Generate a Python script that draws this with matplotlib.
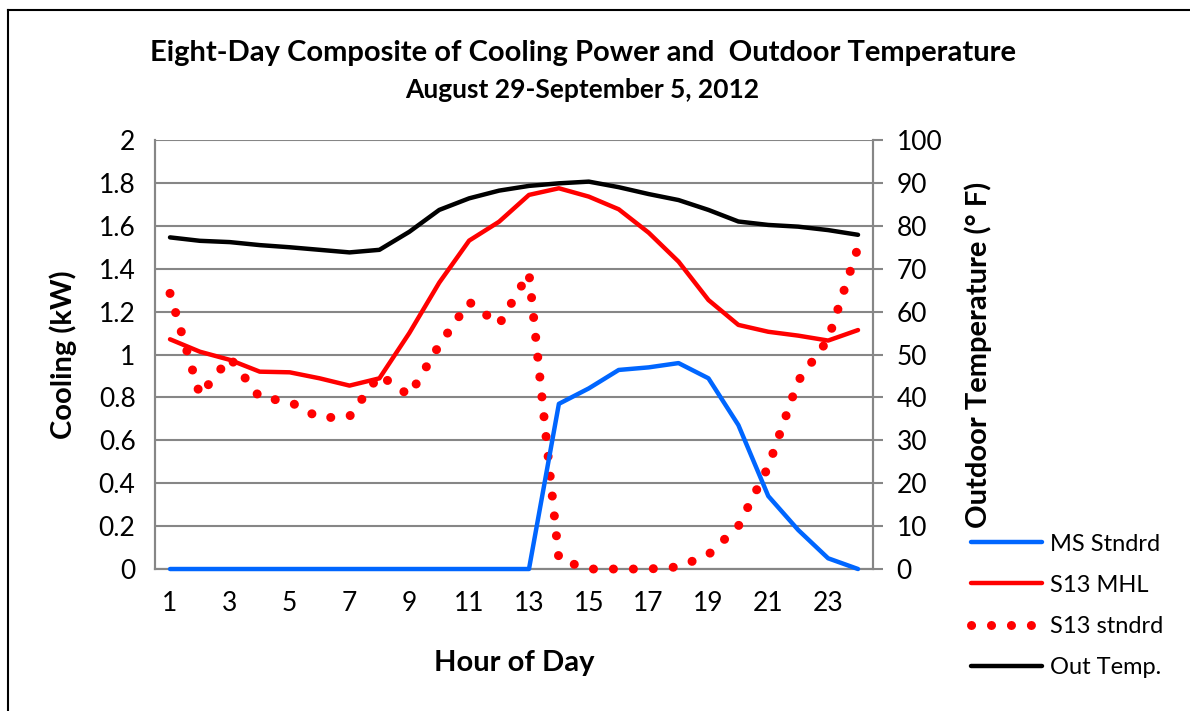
import matplotlib
matplotlib.use("Agg")
import matplotlib.pyplot as plt
from matplotlib.lines import Line2D

plt.rcParams["font.family"] = ["Lato", "DejaVu Sans"]

hours = list(range(1, 25))
ms_stndrd = [0, 0, 0, 0, 0, 0, 0, 0, 0, 0, 0, 0, 0,
             0.77, 0.842, 0.928, 0.94, 0.96, 0.889, 0.671, 0.34, 0.182, 0.05, 0.0]
s13_mhl = [1.071, 1.013, 0.975, 0.92, 0.917, 0.889, 0.855, 0.889, 1.10, 1.335,
           1.531, 1.619, 1.744, 1.775, 1.736, 1.677, 1.568, 1.433, 1.254, 1.138,
           1.106, 1.088, 1.065, 1.114]
s13_stndrd = [1.285, 0.81, 0.985, 0.80, 0.78, 0.704, 0.711, 0.905, 0.809, 1.044,
              1.245, 1.14, 1.38, 0.045, 0.0, 0.0, 0.0, 0.01, 0.067, 0.20,
              0.477, 0.877, 1.07, 1.50]
out_temp = [77.3, 76.5, 76.2, 75.5, 75.0, 74.4, 73.8, 74.4, 78.6, 83.7,
            86.4, 88.2, 89.3, 89.9, 90.3, 89.0, 87.4, 86.0, 83.7, 81.0,
            80.2, 79.8, 79.0, 77.9]

blue = "#0066FF"
red = "#FF0000"
grid_c = "#868686"

fig = plt.figure(figsize=(11.9, 7.11), dpi=100)
ax = fig.add_axes([0.1303, 0.1997, 0.6033, 0.6034])
ax2 = ax.twinx()
ax.set_zorder(2)
ax.patch.set_visible(False)

# frame around the chart (left and top edges are visible)
fig.add_artist(Line2D([0.0065, 0.0065], [0, 0.986], color="black", lw=1.5))
fig.add_artist(Line2D([0.0065, 1.0], [0.986, 0.986], color="black", lw=1.5))

ax.plot(hours, ms_stndrd, color=blue, lw=3.2, solid_capstyle="round",
        clip_on=False, zorder=4)
ax.plot(hours, s13_mhl, color=red, lw=3.2, solid_capstyle="round", zorder=3)
ax.plot(hours, s13_stndrd, color=red, lw=6.5, linestyle=(0, (0.01, 2.2)),
        dash_capstyle="round", clip_on=False, zorder=3)
ax2.plot(hours, out_temp, color="black", lw=3.2, solid_capstyle="round", zorder=3)

ax.set_xlim(0.5, 24.5)
ax.set_ylim(0, 2)
ax2.set_ylim(0, 100)
ax.set_yticks([i * 0.2 for i in range(11)])
ax.set_yticklabels(["0", "0.2", "0.4", "0.6", "0.8", "1", "1.2", "1.4", "1.6", "1.8", "2"])
ax2.set_yticks(range(0, 101, 10))
ax.set_xticks(range(1, 25, 2))
ax2.grid(axis="y", color=grid_c, lw=1.5)
ax2.set_axisbelow(True)

for a in (ax, ax2):
    a.spines["top"].set_visible(False)
    for s in ("left", "right", "bottom"):
        a.spines[s].set_color(grid_c)
        a.spines[s].set_linewidth(1.5)

ax.tick_params(axis="x", length=0, labelsize=19, pad=16)
ax.tick_params(axis="y", length=0, labelsize=19, pad=14)
ax2.tick_params(axis="y", length=7, width=1.5, color=grid_c, labelsize=19, pad=10)

ax.set_xlabel("Hour of Day", fontsize=21, fontweight="bold", labelpad=24)
ax.set_ylabel("Cooling (kW)", fontsize=21, fontweight="bold", labelpad=16)
ax2.set_ylabel("Outdoor Temperature (° F)", fontsize=21, fontweight="bold", labelpad=16)

fig.text(0.4895, 0.926, "Eight-Day Composite of Cooling Power and  Outdoor Temperature",
         ha="center", va="center", fontsize=21, fontweight="bold")
fig.text(0.4895, 0.873, "August 29-September 5, 2012",
         ha="center", va="center", fontsize=19, fontweight="bold")

handles = [
    Line2D([], [], color=blue, lw=3.2, solid_capstyle="round"),
    Line2D([], [], color=red, lw=3.2, solid_capstyle="round"),
    Line2D([], [], color=red, lw=6.5, linestyle=(0, (0.01, 2.2)), dash_capstyle="round"),
    Line2D([], [], color="black", lw=3.2, solid_capstyle="round"),
]
labels = ["MS Stndrd", "S13 MHL", "S13 stndrd", "Out Temp."]
fig.legend(handles, labels, loc="center left", bbox_to_anchor=(0.798, 0.148),
           frameon=False, fontsize=17, handlelength=3.0, handletextpad=0.35,
           labelspacing=0.85)

fig.savefig("out.png", dpi=100)
